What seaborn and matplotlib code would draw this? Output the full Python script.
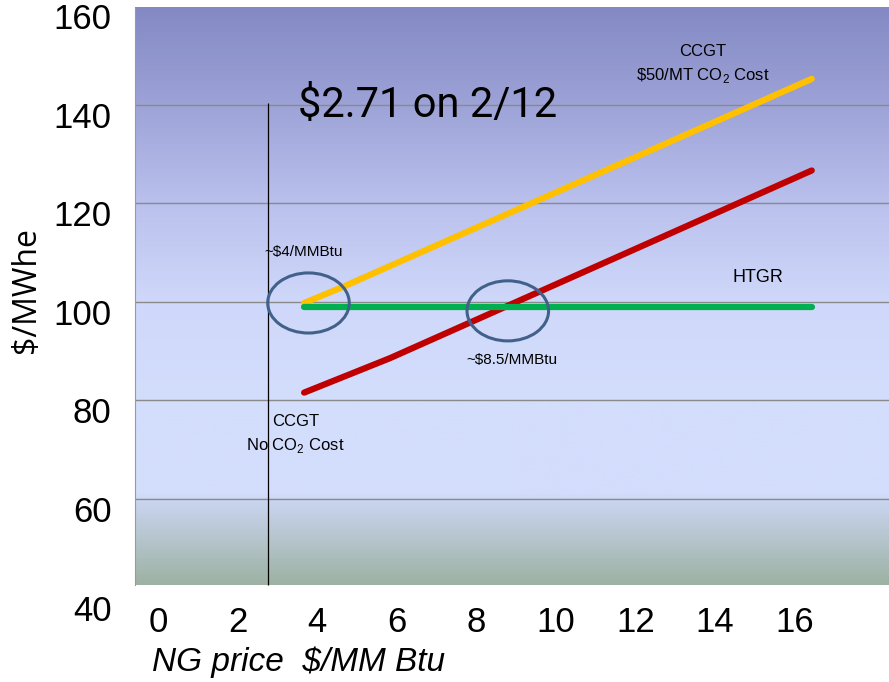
import numpy as np
import pandas as pd
import seaborn as sns
import matplotlib.pyplot as plt
from matplotlib.colors import LinearSegmentedColormap
from matplotlib.patches import Ellipse
from matplotlib.transforms import ScaledTranslation

sns.set_style("white")
plt.rcParams['font.family'] = ['Liberation Sans', 'DejaVu Sans']
plt.rcParams['mathtext.fontset'] = 'custom'
plt.rcParams['mathtext.rm'] = 'Liberation Sans'
for k in ['text.color', 'axes.labelcolor', 'xtick.color', 'ytick.color']:
    plt.rcParams[k] = 'black'

# data
htgr_price = [3.67, 16.43]
htgr_cost = [99.0, 99.0]
ccgt_co2_price = [3.67, 4.57, 16.43]
ccgt_co2_cost = [99.8, 102.8, 145.3]
ccgt_noco2_price = [3.67, 5.83, 16.43]
ccgt_noco2_cost = [81.6, 88.6, 126.7]
ng_price_feb12 = 2.75
crossover_x = [3.78, 8.79]
crossover_y = [99.8, 98.2]
x_ticks = [0, 2, 4, 6, 8, 10, 12, 14, 16]
y_ticks = [40, 60, 80, 100, 120, 140, 160]
grid_y = [60, 80, 100, 120, 140]

df = pd.concat([
    pd.DataFrame({'price': ccgt_co2_price, 'cost': ccgt_co2_cost, 'tech': 'CCGT $50 CO2'}),
    pd.DataFrame({'price': ccgt_noco2_price, 'cost': ccgt_noco2_cost, 'tech': 'CCGT no CO2'}),
    pd.DataFrame({'price': htgr_price, 'cost': htgr_cost, 'tech': 'HTGR'}),
])
palette = {'CCGT $50 CO2': '#FFC000', 'CCGT no CO2': '#C00000', 'HTGR': '#00B050'}

fig = plt.figure(figsize=(8.89, 6.82), dpi=100)
ax = fig.add_axes([0.1519, 0.1239, 0.848, 0.8666])
xmin, xmax = -0.58, 18.37
ax.set_xlim(xmin, xmax)
ax.set_ylim(40, 160)

# background gradient (blue on top, grey-green at bottom)
stops = [(42.5, (158, 178, 164)), (58.8, (200, 212, 238)), (60.8, (211, 221, 252)),
         (80.1, (211, 221, 252)), (100, (207, 216, 250)), (119.9, (186, 193, 237)),
         (140, (157, 163, 215)), (159.7, (132, 137, 196))]
lo, hi = stops[0][0], stops[-1][0]
cmap = LinearSegmentedColormap.from_list(
    'bg', [((v - lo) / (hi - lo), tuple(c / 255 for c in col)) for v, col in stops])
grad = np.linspace(0, 1, 400).reshape(-1, 1)
ax.imshow(grad, cmap=cmap, origin='lower', aspect='auto',
          extent=[xmin, xmax, lo, hi], zorder=0)

ax.hlines(grid_y, xmin, xmax, color='#8a8a8a', lw=1.0, zorder=1)
ax.vlines(ng_price_feb12, lo, 140.4, color='black', lw=0.9, zorder=2)

sns.lineplot(data=df, x='price', y='cost', hue='tech', palette=palette, ax=ax,
             lw=4.5, legend=False, sort=False, estimator=None,
             solid_capstyle='round', zorder=3)

for cx, cy in zip(crossover_x, crossover_y):
    ax.add_patch(Ellipse((cx, cy), 2.05, 12.2, fill=False, ec='#41618A', lw=2.2, zorder=4))

ax.text(6.78, 139.8, '$2.71 on 2/12', fontsize=30, family=['Roboto', 'DejaVu Sans'],
        ha='center', va='center', zorder=5)
ax.text(13.7, 148.3, 'CCGT\n\\$50/MT CO$_\\mathregular{2}$ Cost', fontsize=12,
        ha='center', va='center', multialignment='center', linespacing=1.5)
ax.text(3.67, 110.2, '~$4/MMBtu', fontsize=11, ha='center', va='center')
ax.text(8.89, 88.2, '~$8.5/MMBtu', fontsize=11, ha='center', va='center')
ax.text(15.08, 105.0, 'HTGR', fontsize=13, ha='center', va='center')
ax.text(3.45, 73.0, 'CCGT\nNo CO$_\\mathregular{2}$ Cost', fontsize=12,
        ha='center', va='center', multialignment='center', linespacing=1.5)

ax.set_xticks(x_ticks)
ax.set_yticks(y_ticks)
ax.tick_params(axis='x', length=0, pad=6, labelsize=25)
ax.tick_params(axis='y', length=0, pad=17, labelsize=25)
offset = ScaledTranslation(0, -10 / 100, fig.dpi_scale_trans)
for lbl in ax.get_yticklabels():
    lbl.set_transform(lbl.get_transform() + offset)

ax.set_xlabel('NG price  $/MM Btu', fontsize=24, style='italic', loc='left')
ax.xaxis.set_label_coords(0.0225, -0.083)
ax.set_ylabel('$/MWhe', fontsize=23, family=['Open Sans', 'DejaVu Sans'])
ax.yaxis.set_label_coords(-0.122, 0.52)

for s in ['top', 'right', 'bottom']:
    ax.spines[s].set_visible(False)
ax.spines['left'].set_color('#9a9a9a')
ax.spines['left'].set_linewidth(0.8)
ax.spines['left'].set_bounds(lo, hi)

fig.savefig('out.png', dpi=100, facecolor='white')
